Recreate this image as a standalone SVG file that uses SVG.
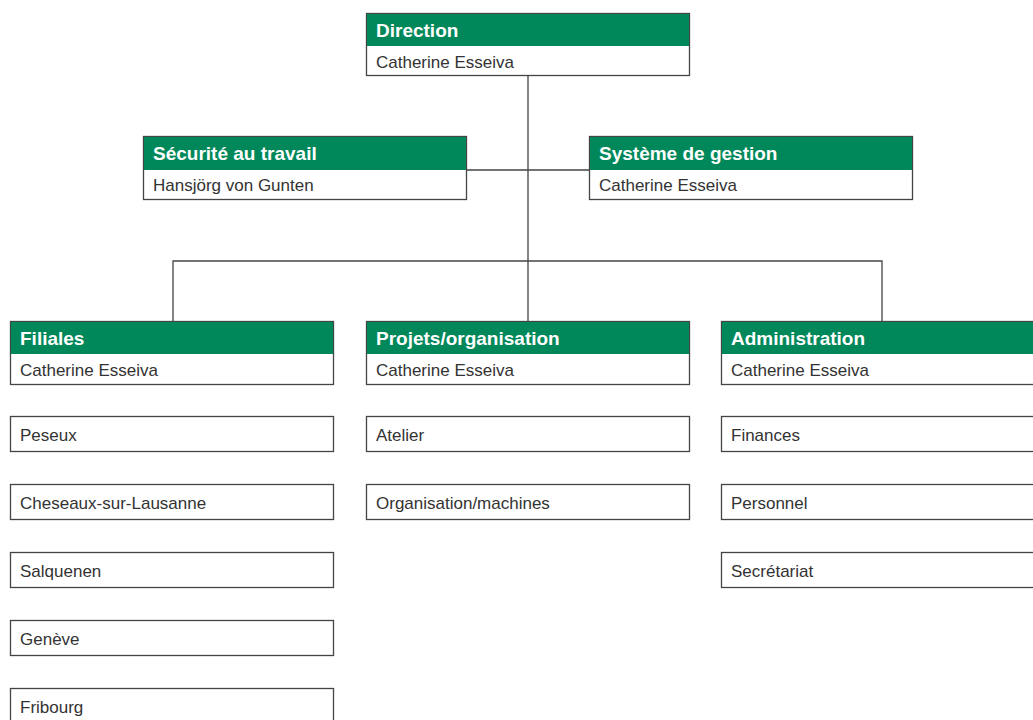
<svg xmlns="http://www.w3.org/2000/svg" width="1033" height="720" viewBox="0 0 1033 720">
<style>
.box{fill:#fff;stroke:#444;stroke-width:1.3}
.hdr{fill:#00885a}
.conn{stroke:#444;stroke-width:1.3;fill:none}
.t{font-family:"Liberation Sans",Arial,sans-serif;font-size:17px;fill:#333}
.h{font-family:"Liberation Sans",Arial,sans-serif;font-size:19px;font-weight:bold;fill:#fff}
</style>
<rect width="1033" height="720" fill="#fff"/>
<g id="connectors">
<path class="conn" d="M528 76V321M467 170H589M173 321V261H882V321"/>
</g>
<g id="direction">
<rect class="box" x="366.5" y="13.5" width="323" height="62"/>
<rect class="hdr" x="367" y="14" width="322" height="32"/>
<text class="h" x="376" y="37">Direction</text>
<text class="t" x="376" y="68">Catherine Esseiva</text>
</g>
<g id="securite">
<rect class="box" x="143.5" y="136.5" width="323" height="63"/>
<rect class="hdr" x="144" y="137" width="322" height="33"/>
<text class="h" x="153" y="160">Sécurité au travail</text>
<text class="t" x="153" y="191">Hansjörg von Gunten</text>
</g>
<g id="systeme">
<rect class="box" x="589.5" y="136.5" width="323" height="63"/>
<rect class="hdr" x="590" y="137" width="322" height="33"/>
<text class="h" x="599" y="160">Système de gestion</text>
<text class="t" x="599" y="191">Catherine Esseiva</text>
</g>
<g id="filiales">
<rect class="box" x="10.5" y="321.5" width="323" height="63"/>
<rect class="hdr" x="11" y="322" width="322" height="32"/>
<text class="h" x="20" y="345">Filiales</text>
<text class="t" x="20" y="376">Catherine Esseiva</text>
</g>
<g id="projets">
<rect class="box" x="366.5" y="321.5" width="323" height="63"/>
<rect class="hdr" x="367" y="322" width="322" height="32"/>
<text class="h" x="376" y="345">Projets/organisation</text>
<text class="t" x="376" y="376">Catherine Esseiva</text>
</g>
<g id="administration">
<rect class="box" x="721.5" y="321.5" width="323" height="63"/>
<rect class="hdr" x="722" y="322" width="322" height="32"/>
<text class="h" x="731" y="345">Administration</text>
<text class="t" x="731" y="376">Catherine Esseiva</text>
</g>
<g id="peseux"><rect class="box" x="10.5" y="416.5" width="323" height="35"/><text class="t" x="20" y="441">Peseux</text></g>
<g id="cheseaux"><rect class="box" x="10.5" y="484.5" width="323" height="35"/><text class="t" x="20" y="509">Cheseaux-sur-Lausanne</text></g>
<g id="salquenen"><rect class="box" x="10.5" y="552.5" width="323" height="35"/><text class="t" x="20" y="577">Salquenen</text></g>
<g id="geneve"><rect class="box" x="10.5" y="620.5" width="323" height="35"/><text class="t" x="20" y="645">Genève</text></g>
<g id="fribourg"><rect class="box" x="10.5" y="688.5" width="323" height="35"/><text class="t" x="20" y="713">Fribourg</text></g>
<g id="atelier"><rect class="box" x="366.5" y="416.5" width="323" height="35"/><text class="t" x="376" y="441">Atelier</text></g>
<g id="organisation"><rect class="box" x="366.5" y="484.5" width="323" height="35"/><text class="t" x="376" y="509">Organisation/machines</text></g>
<g id="finances"><rect class="box" x="721.5" y="416.5" width="323" height="35"/><text class="t" x="731" y="441">Finances</text></g>
<g id="personnel"><rect class="box" x="721.5" y="484.5" width="323" height="35"/><text class="t" x="731" y="509">Personnel</text></g>
<g id="secretariat"><rect class="box" x="721.5" y="552.5" width="323" height="35"/><text class="t" x="731" y="577">Secrétariat</text></g>
</svg>
